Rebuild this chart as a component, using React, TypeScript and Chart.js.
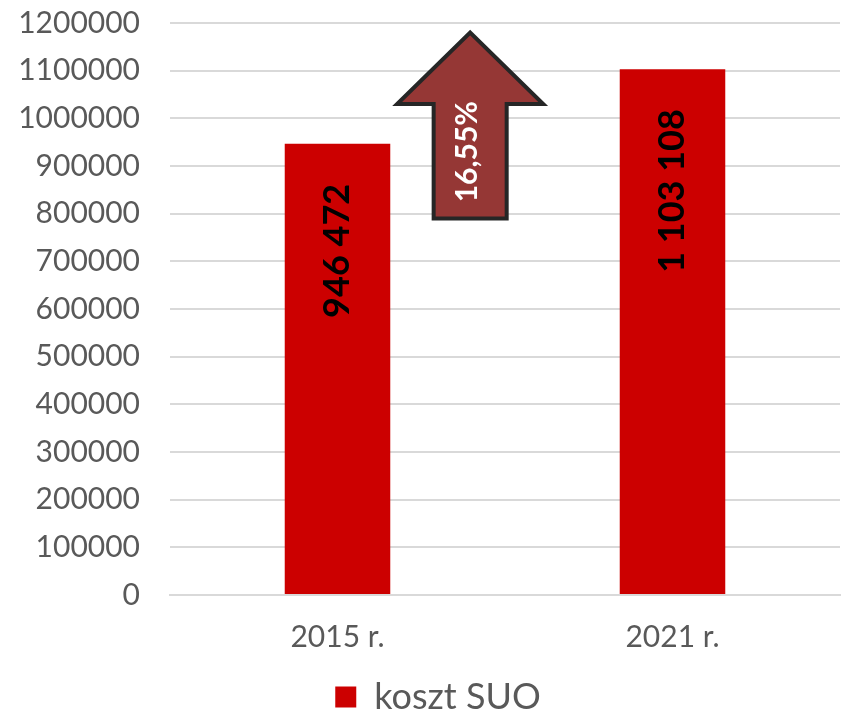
import React, { useEffect, useRef } from "react";
import { Chart, registerables } from "chart.js";

Chart.register(...registerables);

const categories = ["2015 r.", "2021 r."];
const costValues = [946472, 1103108];
const valueLabels = ["946 472", "1 103 108"];
const seriesName = "koszt SUO";
const yTicksMin = 0;
const yTicksMax = 1200000;
const yTicksStep = 100000;

// growth arrow, expressed in data units (category index / value)
const arrowLabel = "16,55%";
const arrowCenterCat = 0.396;
const arrowHeadHalfCat = 0.218;
const arrowShaftHalfCat = 0.109;
const arrowBaseValue = 790000;
const arrowNeckValue = 1030000;
const arrowTipValue = 1180000;
const arrowLabelValue = 930000;

const FONT = "Lato, 'Open Sans', sans-serif";

const legendShiftPlugin = {
  id: "legendShift",
  afterLayout(chart: any) {
    const lg = chart.legend;
    if (lg) {
      lg.left += 18;
      lg.right += 18;
    }
  },
};

const overlayPlugin = {
  id: "overlay",
  afterDatasetsDraw(chart: any) {
    const ctx = chart.ctx;
    const xs = chart.scales.x;
    const ys = chart.scales.y;
    const meta = chart.getDatasetMeta(0);
    ctx.save();
    ctx.fillStyle = "#000000";
    ctx.font = `bold 36px ${FONT}`;
    ctx.textAlign = "right";
    ctx.textBaseline = "middle";
    meta.data.forEach((bar: any, i: number) => {
      ctx.save();
      ctx.translate(bar.x, bar.y + 40);
      ctx.rotate(-Math.PI / 2);
      ctx.fillText(valueLabels[i], 0, 0);
      ctx.restore();
    });
    ctx.restore();

    const step = xs.getPixelForValue(1) - xs.getPixelForValue(0);
    const cx = xs.getPixelForValue(0) + arrowCenterCat * step;
    const hh = arrowHeadHalfCat * step;
    const sh = arrowShaftHalfCat * step;
    const yb = ys.getPixelForValue(arrowBaseValue);
    const yn = ys.getPixelForValue(arrowNeckValue);
    const yt = ys.getPixelForValue(arrowTipValue);
    ctx.save();
    ctx.beginPath();
    ctx.moveTo(cx - sh, yb);
    ctx.lineTo(cx - sh, yn);
    ctx.lineTo(cx - hh, yn);
    ctx.lineTo(cx, yt);
    ctx.lineTo(cx + hh, yn);
    ctx.lineTo(cx + sh, yn);
    ctx.lineTo(cx + sh, yb);
    ctx.closePath();
    ctx.fillStyle = "#953735";
    ctx.fill();
    ctx.lineWidth = 4;
    ctx.lineJoin = "miter";
    ctx.strokeStyle = "#262626";
    ctx.stroke();
    ctx.translate(cx - 3, ys.getPixelForValue(arrowLabelValue));
    ctx.rotate(-Math.PI / 2);
    ctx.fillStyle = "#ffffff";
    ctx.font = `bold 30px ${FONT}`;
    ctx.textAlign = "center";
    ctx.textBaseline = "middle";
    ctx.fillText(arrowLabel, 0, 0);
    ctx.restore();
  },
};

export default function App() {
  const ref = useRef<HTMLCanvasElement | null>(null);
  useEffect(() => {
    if (!ref.current) return;
    const chart = new Chart(ref.current, {
      type: "bar",
      data: {
        labels: categories,
        datasets: [
          {
            label: seriesName,
            data: costValues,
            backgroundColor: "#CC0000",
            categoryPercentage: 1,
            barPercentage: 0.315,
          },
        ],
      },
      options: {
        responsive: true,
        maintainAspectRatio: false,
        animation: false,
        layout: { padding: { left: 0, right: 2, top: 23, bottom: -10 } },
        plugins: {
          tooltip: { enabled: false },
          legend: {
            position: "bottom",
            labels: {
              boxWidth: 21,
              boxHeight: 21,
              color: "#595959",
              font: { family: FONT, size: 36, lineHeight: 0.7 },
              padding: 0,
            },
          },
        },
        scales: {
          x: {
            grid: { display: false, drawTicks: false },
            border: { color: "#d9d9d9", width: 2 },
            ticks: {
              color: "#595959",
              font: { family: FONT, size: 30, lineHeight: 1 },
              padding: 27,
            },
          },
          y: {
            min: yTicksMin,
            max: yTicksMax,
            grid: {
              color: "#d9d9d9",
              lineWidth: 2,
              drawTicks: true,
              tickLength: 30,
              tickColor: "rgba(0,0,0,0)",
            },
            border: { display: false },
            afterFit: (axis: any) => {
              axis.width = 170;
            },
            ticks: {
              stepSize: yTicksStep,
              color: "#595959",
              font: { family: FONT, size: 30, lineHeight: 1 },
              padding: 0,
              callback: (v: any) => String(v),
            },
          },
        },
      },
      plugins: [legendShiftPlugin, overlayPlugin],
    });
    return () => chart.destroy();
  }, []);
  return (
    <div style={{ position: "absolute", left: 0, top: 0, width: 842, height: 715 }}>
      <canvas ref={ref} />
    </div>
  );
}
